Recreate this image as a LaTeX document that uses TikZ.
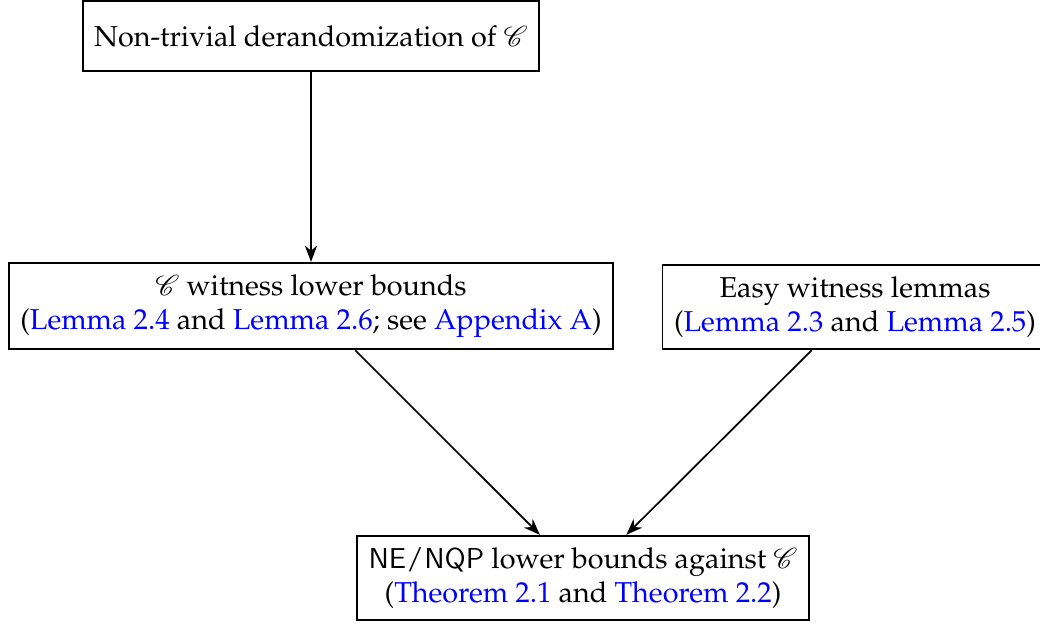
\documentclass[tikz,border=0pt]{standalone}
\usepackage{amsmath,amssymb}
\usepackage[T1]{fontenc}
\usepackage{mathpazo}
\usepackage{mathrsfs}
\usepackage{tikz}
\usetikzlibrary{arrows.meta}

\newcommand{\cls}{\mathscr{C}}
\newcommand{\lnk}[1]{\textcolor{blue}{#1}}

\begin{document}
\begin{tikzpicture}[x=0.0122cm,y=-0.0122cm,>=Stealth,semithick,
    box/.style={draw,align=center,inner sep=4pt}]
  \useasboundingbox (0,0) rectangle (1040,623);
  \node[box,minimum height=0.85cm] (derand) at (311,36) {Non-trivial derandomization of $\cls$};
  \node[box] (witness) at (311,306) {$\cls$ witness lower bounds\\(\lnk{Lemma 2.4} and \lnk{Lemma 2.6}; see \lnk{Appendix A})};
  \node[box] (easy) at (855,307) {Easy witness lemmas\\(\lnk{Lemma 2.3} and \lnk{Lemma 2.5})};
  \node[box] (lower) at (583,578) {$\mathsf{NE}/\mathsf{NQP}$ lower bounds against $\cls$\\(\lnk{Theorem 2.1} and \lnk{Theorem 2.2})};
  \draw[->] (derand) -- (witness);
  \draw[->] (witness) -- (lower);
  \draw[->] (easy) -- (lower);
\end{tikzpicture}
\end{document}
